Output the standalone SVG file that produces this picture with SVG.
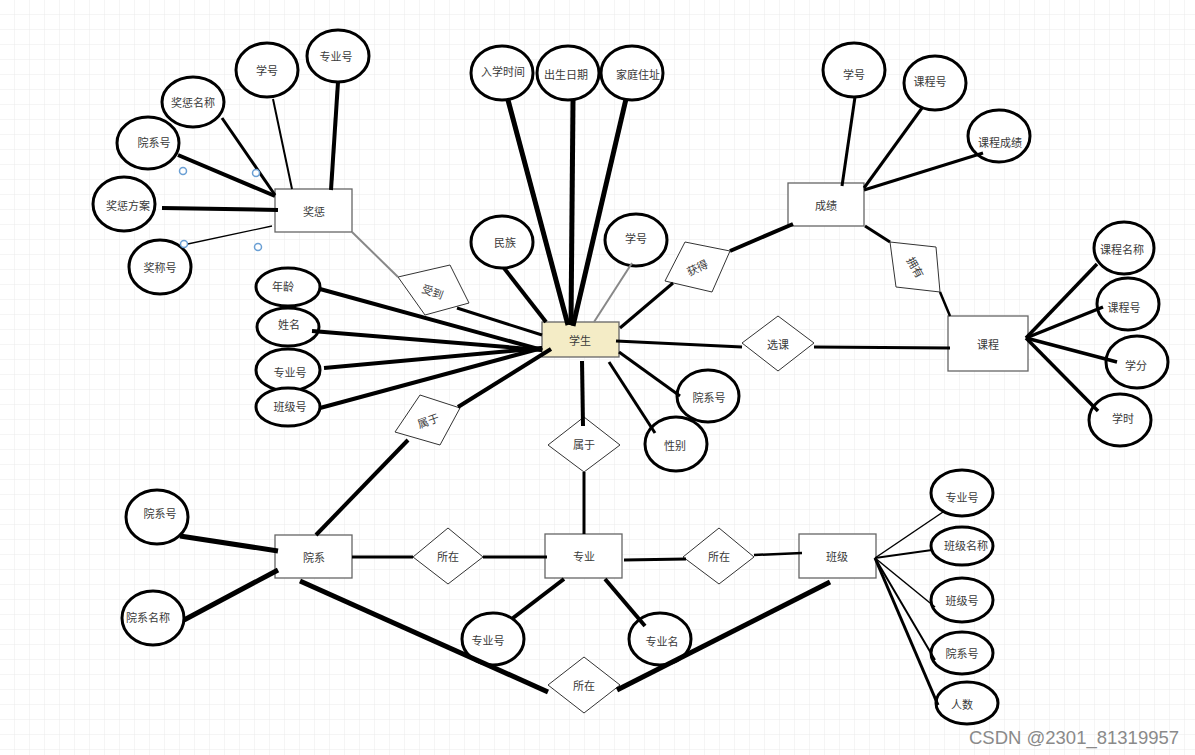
<svg xmlns="http://www.w3.org/2000/svg" width="1195" height="755" viewBox="0 0 1195 755">
<defs>
<pattern id="grid" width="15" height="15" patternUnits="userSpaceOnUse">
<path d="M15 0 V15 M0 15 H15" fill="none" stroke="#ebebeb" stroke-width="1"/>
</pattern>
<style>
text{font-family:"Noto Sans CJK SC","Noto Sans",sans-serif;font-size:11px;fill:#3a3a3a;text-anchor:middle;dominant-baseline:central}
.ent{fill:#fff;stroke:#666;stroke-width:1.3}
.stu{fill:#f4ecc6;stroke:#666;stroke-width:1.3}
.rel{fill:#fff;stroke:#333;stroke-width:1}
.att{fill:#fff;stroke:#000;stroke-width:3}
.c line{stroke:#000;stroke-linecap:butt}
.h{fill:#fff;stroke:#6a9fd4;stroke-width:1.5}
</style>
</defs>
<rect width="1195" height="755" fill="#fff"/>
<rect width="1195" height="755" fill="url(#grid)"/>

<!-- entities -->
<g id="n-jiangcheng"><rect class="ent" x="275" y="189" width="77" height="43"/><text x="314" y="211">奖惩</text></g>
<g id="n-xuesheng"><rect class="stu" x="542" y="322" width="77" height="35"/><text x="580" y="340">学生</text></g>
<g id="n-chengji"><rect class="ent" x="788" y="183" width="76" height="43"/><text x="826" y="205">成绩</text></g>
<g id="n-kecheng"><rect class="ent" x="948" y="316" width="80" height="55"/><text x="988" y="344">课程</text></g>
<g id="n-yuanxi"><rect class="ent" x="275" y="535" width="77" height="43"/><text x="314" y="557">院系</text></g>
<g id="n-zhuanye"><rect class="ent" x="545" y="534" width="77" height="44"/><text x="584" y="556">专业</text></g>
<g id="n-banji"><rect class="ent" x="799" y="534" width="77" height="44"/><text x="837" y="556">班级</text></g>

<!-- relationships -->
<g id="r-shoudao"><polygon class="rel" points="398,277 450,265 469,303 425,315"/><text x="433" y="291" transform="rotate(20 433 291)">受到</text></g>
<g id="r-huode"><polygon class="rel" points="685,242 730,251 712,292 665,281"/><text x="697" y="267" transform="rotate(-25 697 267)">获得</text></g>
<g id="r-yongyou"><polygon class="rel" points="890,242 936,247 940,292 896,287"/><text x="916" y="267" transform="rotate(60 916 267)">拥有</text></g>
<g id="r-xuanke"><polygon class="rel" points="742,343 778,316 814,343 778,371"/><text x="778" y="344">选课</text></g>
<g id="r-shuyu1"><polygon class="rel" points="420,395 460,408 440,445 395,432"/><text x="428" y="420" transform="rotate(-20 428 420)">属于</text></g>
<g id="r-shuyu2"><polygon class="rel" points="548,445 584,417 620,445 584,472"/><text x="584" y="444">属于</text></g>
<g id="r-suozai1"><polygon class="rel" points="413,557 448,528 483,557 448,584"/><text x="448" y="556">所在</text></g>
<g id="r-suozai2"><polygon class="rel" points="683,557 719,528 754,557 719,584"/><text x="719" y="556">所在</text></g>
<g id="r-suozai3"><polygon class="rel" points="548,685 584,657 620,685 584,713"/><text x="584" y="685">所在</text></g>

<!-- attributes -->
<g id="a-jc-zyh"><ellipse class="att" cx="338" cy="56" rx="31" ry="26"/><text x="336" y="56">专业号</text></g>
<g id="a-jc-xh"><ellipse class="att" cx="267" cy="70" rx="31" ry="27"/><text x="267" y="70">学号</text></g>
<g id="a-jc-mc"><ellipse class="att" cx="193" cy="102" rx="31" ry="25"/><text x="193" y="102">奖惩名称</text></g>
<g id="a-jc-yxh"><ellipse class="att" cx="148" cy="143" rx="31" ry="26"/><text x="154" y="142">院系号</text></g>
<g id="a-jc-fa"><ellipse class="att" cx="124" cy="204" rx="31" ry="27"/><text x="128" y="205">奖惩方案</text></g>
<g id="a-jc-jch"><ellipse class="att" cx="160" cy="267" rx="31" ry="27"/><text x="160" y="267">奖称号</text></g>

<g id="a-nl"><ellipse class="att" cx="288" cy="287" rx="32" ry="19"/><text x="283" y="286">年龄</text></g>
<g id="a-xm"><ellipse class="att" cx="288" cy="327" rx="31" ry="19"/><text x="289" y="324">姓名</text></g>
<g id="a-zyh"><ellipse class="att" cx="288" cy="370" rx="32" ry="21"/><text x="290" y="372">专业号</text></g>
<g id="a-bjh"><ellipse class="att" cx="288" cy="407" rx="32" ry="19"/><text x="290" y="406">班级号</text></g>

<g id="a-rxsj"><ellipse class="att" cx="502" cy="73" rx="31" ry="27"/><text x="503" y="71">入学时间</text></g>
<g id="a-csrq"><ellipse class="att" cx="568" cy="73" rx="31" ry="27"/><text x="566" y="74">出生日期</text></g>
<g id="a-jtzz"><ellipse class="att" cx="632" cy="73" rx="31" ry="27"/><text x="638" y="74">家庭住址</text></g>
<g id="a-mz"><ellipse class="att" cx="502" cy="242" rx="31" ry="26"/><text x="505" y="242">民族</text></g>
<g id="a-xh"><ellipse class="att" cx="636" cy="240" rx="31" ry="26"/><text x="636" y="238">学号</text></g>

<g id="a-cj-xh"><ellipse class="att" cx="854" cy="70" rx="31" ry="27"/><text x="854" y="74">学号</text></g>
<g id="a-cj-kch"><ellipse class="att" cx="935" cy="83" rx="31" ry="27"/><text x="930" y="81">课程号</text></g>
<g id="a-cj-kccj"><ellipse class="att" cx="999" cy="136" rx="31" ry="26"/><text x="1000" y="142">课程成绩</text></g>

<g id="a-kcmc"><ellipse class="att" cx="1124" cy="248" rx="30" ry="26"/><text x="1122" y="249">课程名称</text></g>
<g id="a-kch"><ellipse class="att" cx="1128" cy="304" rx="31" ry="26"/><text x="1124" y="307">课程号</text></g>
<g id="a-xf"><ellipse class="att" cx="1137" cy="362" rx="31" ry="26"/><text x="1136" y="365">学分</text></g>
<g id="a-xs"><ellipse class="att" cx="1120" cy="420" rx="31" ry="26"/><text x="1123" y="418">学时</text></g>

<g id="a-yxh"><ellipse class="att" cx="708" cy="396" rx="31" ry="26"/><text x="709" y="397">院系号</text></g>
<g id="a-xb"><ellipse class="att" cx="676" cy="444" rx="31" ry="27"/><text x="675" y="445">性别</text></g>

<g id="a-yx-yxh"><ellipse class="att" cx="157" cy="517" rx="31" ry="27"/><text x="160" y="513">院系号</text></g>
<g id="a-yx-yxmc"><ellipse class="att" cx="153" cy="618" rx="31" ry="27"/><text x="148" y="617">院系名称</text></g>

<g id="a-zy-zyh"><ellipse class="att" cx="493" cy="639" rx="31" ry="26"/><text x="488" y="640">专业号</text></g>
<g id="a-zy-zym"><ellipse class="att" cx="660" cy="639" rx="31" ry="26"/><text x="662" y="641">专业名</text></g>

<g id="a-bj-zyh"><ellipse class="att" cx="962" cy="493" rx="31" ry="23"/><text x="962" y="497">专业号</text></g>
<g id="a-bj-bjmc"><ellipse class="att" cx="962" cy="546" rx="31" ry="19"/><text x="966" y="545">班级名称</text></g>
<g id="a-bj-bjh"><ellipse class="att" cx="962" cy="600" rx="31" ry="22"/><text x="962" y="600">班级号</text></g>
<g id="a-bj-yxh"><ellipse class="att" cx="962" cy="653" rx="31" ry="21"/><text x="962" y="653">院系号</text></g>
<g id="a-bj-rs"><ellipse class="att" cx="967" cy="703" rx="31" ry="21"/><text x="962" y="704">人数</text></g>

<!-- connectors -->
<g id="connectors" class="c">
<line x1="338" y1="82" x2="331" y2="190" stroke-width="4"/>
<line x1="273" y1="99" x2="292" y2="189" stroke-width="2"/>
<line x1="222" y1="118" x2="275" y2="195" stroke-width="3"/>
<line x1="178" y1="155" x2="275" y2="196" stroke-width="4"/>
<line x1="162" y1="208" x2="278" y2="210" stroke-width="4"/>
<line x1="183" y1="245" x2="272" y2="226" stroke-width="1.3"/>
<line x1="352" y1="232" x2="398" y2="277" style="stroke:#888" stroke-width="2"/>
<line x1="457" y1="308" x2="542" y2="335" stroke-width="3"/>

<line x1="508" y1="100" x2="568" y2="325" stroke-width="5"/>
<line x1="573" y1="100" x2="571" y2="325" stroke-width="5"/>
<line x1="626" y1="99" x2="573" y2="326" stroke-width="5"/>
<line x1="504" y1="268" x2="546" y2="322" stroke-width="4"/>
<line x1="632" y1="263" x2="594" y2="322" style="stroke:#888" stroke-width="2"/>
<line x1="673" y1="283" x2="620" y2="328" stroke-width="3"/>
<line x1="730" y1="251" x2="793" y2="224" stroke-width="4"/>
<line x1="865" y1="226" x2="890" y2="242" stroke-width="3"/>
<line x1="940" y1="292" x2="950" y2="316" stroke-width="2.5"/>

<line x1="855" y1="97" x2="842" y2="186" stroke-width="3"/>
<line x1="922" y1="108" x2="864" y2="188" stroke-width="3"/>
<line x1="983" y1="153" x2="864" y2="190" stroke-width="3"/>

<line x1="1026" y1="338" x2="1097" y2="264" stroke-width="3.5"/>
<line x1="1026" y1="338" x2="1103" y2="307" stroke-width="3.5"/>
<line x1="1026" y1="338" x2="1117" y2="362" stroke-width="3.5"/>
<line x1="1026" y1="338" x2="1098" y2="411" stroke-width="3.5"/>

<line x1="320" y1="289" x2="542" y2="350" stroke-width="4"/>
<line x1="312" y1="331" x2="542" y2="350" stroke-width="4"/>
<line x1="324" y1="368" x2="542" y2="348" stroke-width="4"/>
<line x1="320" y1="408" x2="542" y2="348" stroke-width="4"/>
<line x1="458" y1="407" x2="551" y2="349" stroke-width="4"/>
<line x1="408" y1="440" x2="316" y2="535" stroke-width="4"/>

<line x1="616" y1="341" x2="742" y2="347" stroke-width="3"/>
<line x1="814" y1="347" x2="950" y2="348" stroke-width="3"/>
<line x1="619" y1="352" x2="680" y2="396" stroke-width="3"/>
<line x1="609" y1="362" x2="655" y2="433" stroke-width="3"/>
<line x1="582" y1="361" x2="583" y2="426" stroke-width="4"/>
<line x1="584" y1="472" x2="584" y2="534" stroke-width="3"/>

<line x1="180" y1="536" x2="278" y2="551" stroke-width="5"/>
<line x1="184" y1="620" x2="278" y2="570" stroke-width="5"/>
<line x1="352" y1="557" x2="413" y2="557" stroke-width="3"/>
<line x1="483" y1="557" x2="547" y2="557" stroke-width="3"/>
<line x1="624" y1="560" x2="686" y2="559" stroke-width="3"/>
<line x1="754" y1="555" x2="802" y2="553" stroke-width="2.5"/>
<line x1="300" y1="581" x2="548" y2="692" stroke-width="5"/>
<line x1="617" y1="690" x2="830" y2="582" stroke-width="5"/>
<line x1="564" y1="579" x2="513" y2="618" stroke-width="4"/>
<line x1="605" y1="579" x2="645" y2="626" stroke-width="4"/>

<line x1="875" y1="558" x2="943" y2="512" stroke-width="1.5"/>
<line x1="875" y1="558" x2="932" y2="550" stroke-width="2"/>
<line x1="875" y1="558" x2="935" y2="607" stroke-width="1.5"/>
<line x1="875" y1="558" x2="935" y2="660" stroke-width="2"/>
<line x1="875" y1="558" x2="938" y2="705" stroke-width="3"/>
</g>

<!-- selection handles -->
<g id="handles">
<circle class="h" cx="183" cy="171" r="3.5"/>
<circle class="h" cx="256" cy="173" r="3.5"/>
<circle class="h" cx="184" cy="244" r="3.5"/>
<circle class="h" cx="258" cy="247" r="3.5"/>
</g>

<text x="1074" y="737" style="font-family:'Liberation Sans','Noto Sans',sans-serif;font-size:18.5px;fill:#8a8a8a">CSDN @2301_81319957</text>
</svg>
